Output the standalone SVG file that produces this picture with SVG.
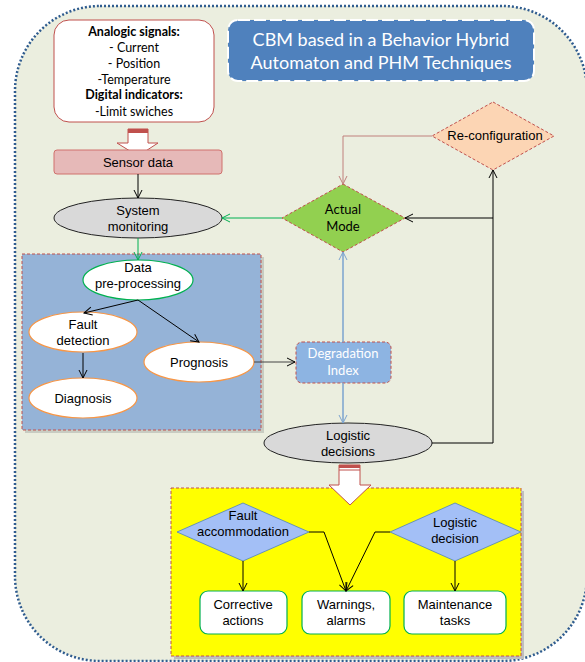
<svg xmlns="http://www.w3.org/2000/svg" width="585" height="662" viewBox="0 0 585 662">
<defs>
<style>
.ar{font-family:"Liberation Sans",Arial,sans-serif;font-size:13px;fill:#000;text-anchor:middle}
.cal{font-family:Lato,"Open Sans",sans-serif;text-anchor:middle}
.ln{fill:none;stroke:#000;stroke-width:1}
.dash{stroke:#C0504D;stroke-width:1;stroke-dasharray:3 2}
.ell{stroke-width:1.2}
.box{fill:#fff;stroke:#00B050;stroke-width:1.2}
</style>
<marker id="mk" markerWidth="10" markerHeight="10" viewBox="0 0 10 10" refX="9" refY="5" orient="auto" markerUnits="userSpaceOnUse"><path d="M1,1 L9,5 L1,9" fill="none" stroke="#000" stroke-width="1"/></marker>
<marker id="mg" markerWidth="10" markerHeight="10" viewBox="0 0 10 10" refX="9" refY="5" orient="auto" markerUnits="userSpaceOnUse"><path d="M1,1 L9,5 L1,9" fill="none" stroke="#00B050" stroke-width="1"/></marker>
<marker id="mr" markerWidth="10" markerHeight="10" viewBox="0 0 10 10" refX="9" refY="5" orient="auto" markerUnits="userSpaceOnUse"><path d="M1,1 L9,5 L1,9" fill="none" stroke="#C0807C" stroke-width="1"/></marker>
<marker id="mb" markerWidth="10" markerHeight="10" viewBox="0 0 10 10" refX="9" refY="5" orient="auto" markerUnits="userSpaceOnUse"><path d="M1,1 L9,5 L1,9" fill="none" stroke="#7BA3CF" stroke-width="1"/></marker>
</defs>

<g id="container">
<rect x="15" y="6" width="572" height="655" rx="85" ry="85" fill="#EBEEDF" stroke="#2F5C8F" stroke-width="2.5" stroke-dasharray="2 2"/>
</g>

<g id="title">
<rect x="228" y="20" width="306" height="61" rx="10" fill="#4F81BD" stroke="#fff" stroke-width="2" stroke-dasharray="12 4"/>
<text class="cal" x="381" y="46" font-size="18" fill="#fff">CBM based in a Behavior Hybrid</text>
<text class="cal" x="381" y="69" font-size="18" fill="#fff">Automaton and PHM Techniques</text>
</g>

<g id="signals">
<rect x="54" y="20" width="160" height="102" rx="15" fill="#fff" stroke="#C0504D" stroke-width="1"/>
<g class="cal" font-size="12.5" fill="#000">
<text x="134" y="36" font-weight="bold">Analogic signals:</text>
<text x="134" y="52">- Current</text>
<text x="134" y="68">- Position</text>
<text x="134" y="84">-Temperature</text>
<text x="134" y="99" font-weight="bold">Digital indicators:</text>
<text x="134" y="116">-Limit swiches</text>
</g>
</g>

<g id="blockarrow1">
<path d="M128,129 L148,129 L148,143 L158,143 L138,156 L117,143 L128,143 Z" fill="#fff" stroke="#C0504D" stroke-width="1"/>
<rect x="128" y="129" width="20" height="4" fill="#C0504D"/>
</g>

<g id="sensor-data">
<rect x="54" y="150" width="168" height="24" rx="3" fill="#E6B9B8" stroke="#D0706C" stroke-width="1"/>
<text class="ar" x="138" y="167">Sensor data</text>
</g>

<g id="system-monitoring">
<ellipse cx="138" cy="218" rx="84" ry="20" fill="#D9D9D9" stroke="#222" stroke-width="1"/>
<text class="ar" x="138" y="215">System</text>
<text class="ar" x="138" y="231">monitoring</text>
</g>

<g id="processing-panel">
<rect x="25" y="257" width="239" height="176" fill="#C8CCC2"/>
<rect x="22" y="254" width="239" height="176" fill="#95B3D7" class="dash"/>
</g>

<g id="data-preprocessing">
<ellipse cx="138" cy="280" rx="55" ry="20" fill="#fff" stroke="#00B050" class="ell"/>
<text class="ar" x="138" y="272">Data</text>
<text class="ar" x="138" y="288">pre-processing</text>
</g>

<g id="fault-detection">
<ellipse cx="83" cy="332" rx="54" ry="20" fill="#fff" stroke="#F79646" class="ell"/>
<text class="ar" x="83" y="329">Fault</text>
<text class="ar" x="83" y="345">detection</text>
</g>

<g id="diagnosis">
<ellipse cx="83" cy="398" rx="54" ry="20" fill="#fff" stroke="#F79646" class="ell"/>
<text class="ar" x="83" y="403">Diagnosis</text>
</g>

<g id="prognosis">
<ellipse cx="199" cy="362" rx="55" ry="20" fill="#fff" stroke="#F79646" class="ell"/>
<text class="ar" x="199" y="367">Prognosis</text>
</g>

<g id="degradation-index">
<rect x="296" y="342" width="95" height="41" rx="6" fill="#8DB4E2" class="dash"/>
<text class="cal" x="343" y="358" font-size="13" fill="#fff">Degradation</text>
<text class="cal" x="343" y="375" font-size="13" fill="#fff">Index</text>
</g>

<g id="actual-mode">
<path d="M343,184 L405,218 L343,252 L282,218 Z" fill="#92D050" class="dash"/>
<text class="cal" x="343" y="214" font-size="13" fill="#000">Actual</text>
<text class="cal" x="343" y="231" font-size="13" fill="#000">Mode</text>
</g>

<g id="re-configuration">
<path d="M493,102 L554,136 L493,170 L432,136 Z" fill="#FCD5B4" class="dash"/>
<text class="ar" x="495" y="140">Re-configuration</text>
</g>

<g id="logistic-decisions">
<ellipse cx="348" cy="443" rx="84" ry="20" fill="#D9D9D9" stroke="#222" stroke-width="1"/>
<text class="ar" x="348" y="440">Logistic</text>
<text class="ar" x="348" y="456">decisions</text>
</g>

<g id="actions-panel">
<rect x="174" y="491" width="350" height="168" fill="#BFBFBF"/>
<rect x="171" y="488" width="350" height="168" fill="#FFFF00" class="dash"/>
</g>

<g id="blockarrow2">
<path d="M339,465 L360,465 L360,485 L371,485 L350,505 L329,485 L339,485 Z" fill="#fff" stroke="#C0504D" stroke-width="1"/>
<rect x="339" y="465" width="21" height="3" fill="#C0504D"/>
<line x1="339" y1="470" x2="360" y2="470" stroke="#C0504D" stroke-width="1"/>
</g>

<g id="fault-accommodation">
<path d="M243,503 L309,532 L243,561 L177,532 Z" fill="#A3BFF6" stroke="#4F81BD" stroke-width="0.8"/>
<text class="ar" x="243" y="520">Fault</text>
<text class="ar" x="243" y="536">accommodation</text>
</g>

<g id="logistic-decision">
<path d="M455,503 L521,532 L455,561 L390,532 Z" fill="#A3BFF6" stroke="#4F81BD" stroke-width="0.8"/>
<text class="ar" x="455" y="527">Logistic</text>
<text class="ar" x="455" y="543">decision</text>
</g>

<g id="corrective-actions">
<rect x="200" y="591" width="87" height="43" rx="8" class="box"/>
<text class="ar" x="243" y="609">Corrective</text>
<text class="ar" x="243" y="625">actions</text>
</g>

<g id="warnings-alarms">
<rect x="302" y="591" width="88" height="43" rx="8" class="box"/>
<text class="ar" x="346" y="609">Warnings,</text>
<text class="ar" x="346" y="625">alarms</text>
</g>

<g id="maintenance-tasks">
<rect x="404" y="591" width="102" height="43" rx="8" class="box"/>
<text class="ar" x="455" y="609">Maintenance</text>
<text class="ar" x="455" y="625">tasks</text>
</g>

<g id="connectors">
<line class="ln" x1="138" y1="174" x2="138" y2="198" marker-end="url(#mk)"/>
<line x1="282" y1="218" x2="222" y2="218" stroke="#00B050" stroke-width="1" marker-end="url(#mg)"/>
<line x1="138" y1="238" x2="138" y2="260" stroke="#00B050" stroke-width="1" marker-end="url(#mg)"/>
<line class="ln" x1="138" y1="300" x2="84" y2="313" marker-end="url(#mk)"/>
<line class="ln" x1="138" y1="300" x2="199" y2="342" marker-end="url(#mk)"/>
<line class="ln" x1="83" y1="353" x2="83" y2="378" marker-end="url(#mk)"/>
<line x1="254" y1="362" x2="295" y2="362" stroke="#444" stroke-width="1" marker-end="url(#mk)"/>
<line x1="343" y1="342" x2="343" y2="252" stroke="#7BA3CF" stroke-width="1.5" marker-end="url(#mb)"/>
<line x1="343" y1="383" x2="343" y2="423" stroke="#7BA3CF" stroke-width="1.5" marker-end="url(#mb)"/>
<polyline points="432,136 343,136 343,184" fill="none" stroke="#C0807C" stroke-width="1" marker-end="url(#mr)"/>
<polyline class="ln" points="432,443 493,443 493,170" marker-end="url(#mk)"/>
<line class="ln" x1="493" y1="218" x2="405" y2="218" marker-end="url(#mk)"/>
<line class="ln" x1="243" y1="561" x2="243" y2="591" marker-end="url(#mk)"/>
<line class="ln" x1="455" y1="561" x2="455" y2="591" marker-end="url(#mk)"/>
<polyline class="ln" points="309,532 324,532 346,591" marker-end="url(#mk)"/>
<polyline class="ln" points="390,532 375,532 346,591" marker-end="url(#mk)"/>
</g>
</svg>
